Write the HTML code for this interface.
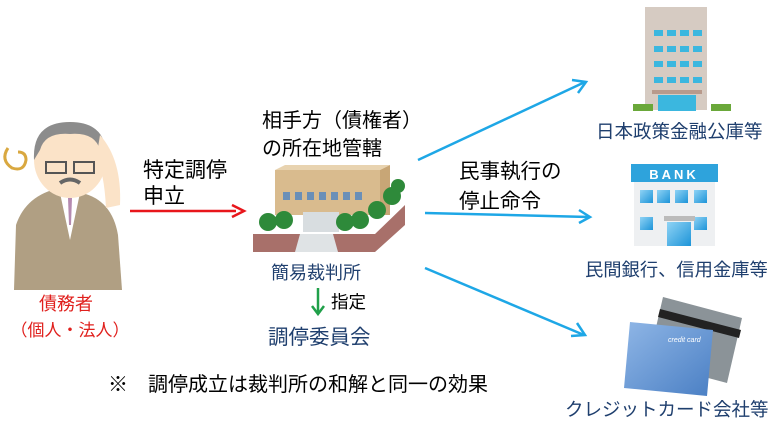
<!DOCTYPE html>
<html><head><meta charset="utf-8"><style>
body{margin:0;background:#fff}
svg text{font-family:"Liberation Sans","Noto Sans CJK JP",sans-serif}
</style></head><body>
<svg width="781" height="433" viewBox="0 0 781 433" xmlns="http://www.w3.org/2000/svg">
<defs>
<linearGradient id="cg" x1="0" y1="0" x2="1" y2="1"><stop offset="0" stop-color="#8fb6e6"/><stop offset="1" stop-color="#4a7fc4"/></linearGradient>
<linearGradient id="bk" x1="0" y1="0" x2="1" y2="1"><stop offset="0" stop-color="#8fd3f5"/><stop offset="1" stop-color="#1d94d8"/></linearGradient>
</defs>
<!-- person -->
<path d="M8 148 q-8 12 4 20 q12 4 14 -8 q0 -8 -8 -8" fill="none" stroke="#d9a840" stroke-width="3"/>
<path d="M14 290 L16 225 Q26 195 60 188 L82 193 Q112 200 118 235 L122 290 Z" fill="#b09f83"/>
<path d="M60 193 L70 240 L80 193 Z" fill="#fff"/>
<path d="M68 198 L72 198 L71 225 L69 225Z" fill="#b58ab0"/>
<ellipse cx="70" cy="160" rx="36" ry="38" fill="#fbe3c8"/>
<path d="M34 160 Q32 122 70 122 Q108 122 106 160 L100 150 Q95 132 70 134 Q45 132 40 150 Z" fill="#8c8c8c"/>
<path d="M100 135 Q122 160 120 205 L106 208 Q104 170 96 160Z" fill="#fbe3c8"/>
<rect x="46" y="162" width="20" height="11" fill="none" stroke="#555" stroke-width="2"/>
<rect x="74" y="162" width="20" height="11" fill="none" stroke="#555" stroke-width="2"/>
<path d="M60 183 Q70 176 80 183" stroke="#666" stroke-width="4" fill="none"/>
<text x="66" y="310" font-size="18" fill="#e0201d" text-anchor="middle">債務者</text>
<text x="70" y="336" font-size="17" fill="#e0201d" text-anchor="middle">（個人・法人）</text>
<text x="143" y="177" font-size="21" fill="#000">特定調停</text>
<text x="143" y="203" font-size="21" fill="#000">申立</text>
<line x1="130" y1="211" x2="236" y2="211" stroke="#e8161b" stroke-width="2.5"/>
<path d="M232 205 L244 211 L232 217" fill="none" stroke="#e8161b" stroke-width="2.5"/>
<text x="262" y="127" font-size="20" fill="#000">相手方（債権者）</text>
<text x="262" y="155" font-size="20" fill="#000">の所在地管轄</text>
<!-- court -->
<path d="M275 170 L380 170 L390 165 L390 215 L275 215Z" fill="#d9bb8e"/>
<path d="M380 170 L390 165 L390 215 L380 215Z" fill="#c8a676"/>
<path d="M275 170 L285 165 L390 165 L380 170Z" fill="#e8d3b0"/>
<g fill="#6a8fb8"><rect x="283" y="192" width="7" height="8"/><rect x="295" y="192" width="7" height="8"/><rect x="307" y="192" width="7" height="8"/><rect x="319" y="192" width="7" height="8"/><rect x="331" y="192" width="7" height="8"/><rect x="343" y="192" width="7" height="8"/><rect x="355" y="192" width="7" height="8"/></g>
<rect x="303" y="212" width="36" height="20" fill="#d8dde0"/>
<path d="M253 234 L300 234 L300 252 L253 252Z" fill="#a8706a"/>
<path d="M333 234 L375 234 L405 205 L405 225 L375 252 L333 252Z" fill="#a8706a"/>
<path d="M300 234 L333 234 L338 252 L295 252Z" fill="#dfe3e5"/>
<g fill="#2e8a3a"><circle cx="268" cy="222" r="9"/><circle cx="284" cy="220" r="9"/><circle cx="345" cy="222" r="9"/><circle cx="360" cy="220" r="9"/><circle cx="377" cy="210" r="9"/><circle cx="392" cy="196" r="9"/><circle cx="398" cy="186" r="7"/></g>
<text x="316" y="279" font-size="18" fill="#1f3f6e" text-anchor="middle">簡易裁判所</text>
<line x1="318" y1="288" x2="318" y2="312" stroke="#20a04a" stroke-width="2.5"/>
<path d="M312 306 L318 314 L324 306" fill="none" stroke="#20a04a" stroke-width="2.5"/>
<text x="331" y="308" font-size="17.5" fill="#000">指定</text>
<text x="268" y="344" font-size="20.5" fill="#1f3f6e">調停委員会</text>
<text x="108" y="391" font-size="20" fill="#000">※　調停成立は裁判所の和解と同一の効果</text>
<!-- blue arrows -->
<g stroke="#1ea7e6" stroke-width="2.5" fill="none">
<line x1="418" y1="160" x2="585" y2="82"/><path d="M572 80 L586 82 L578 93"/>
<line x1="425" y1="213" x2="589" y2="217"/><path d="M579 210 L590 217 L579 223"/>
<line x1="425" y1="268" x2="584" y2="335"/><path d="M577 323 L585 335 L571 336"/>
</g>
<text x="459" y="178" font-size="20.5" fill="#000">民事執行の</text>
<text x="459" y="208" font-size="20.5" fill="#000">停止命令</text>
<!-- office -->
<rect x="645" y="7" width="62" height="103" fill="#d6cbc2"/>
<g fill="#3bb7df"><rect x="654" y="30" width="9" height="6"/><rect x="667" y="30" width="9" height="6"/><rect x="680" y="30" width="9" height="6"/><rect x="693" y="30" width="9" height="6"/>
<rect x="654" y="46" width="9" height="6"/><rect x="667" y="46" width="9" height="6"/><rect x="680" y="46" width="9" height="6"/><rect x="693" y="46" width="9" height="6"/>
<rect x="654" y="61" width="9" height="6"/><rect x="667" y="61" width="9" height="6"/><rect x="680" y="61" width="9" height="6"/><rect x="693" y="61" width="9" height="6"/>
<rect x="654" y="77" width="9" height="6"/><rect x="667" y="77" width="9" height="6"/><rect x="680" y="77" width="9" height="6"/><rect x="693" y="77" width="9" height="6"/>
<rect x="658" y="95" width="38" height="16"/></g>
<rect x="652" y="90" width="50" height="4" fill="#b89a8c"/>
<rect x="633" y="104" width="20" height="7" fill="#6aa83a"/><rect x="711" y="104" width="20" height="7" fill="#6aa83a"/>
<text x="596" y="138" font-size="18.5" fill="#1f3f6e">日本政策金融公庫等</text>
<!-- bank -->
<rect x="631" y="164" width="87" height="18" fill="#2ea3dc"/>
<text x="674" y="179" font-size="13" font-weight="bold" fill="#fff" text-anchor="middle" letter-spacing="3">BANK</text>
<rect x="634" y="182" width="81" height="64" fill="#eef0f2"/>
<g fill="url(#bk)"><rect x="640" y="190" width="13" height="13"/><rect x="657" y="190" width="13" height="13"/><rect x="675" y="190" width="13" height="13"/><rect x="694" y="190" width="13" height="13"/><rect x="640" y="217" width="13" height="13"/><rect x="694" y="217" width="13" height="13"/><rect x="667" y="222" width="24" height="24"/></g>
<rect x="664" y="216" width="31" height="5" fill="#bbb"/>
<text x="585" y="276" font-size="18.3" fill="#1f3f6e">民間銀行、信用金庫等</text>
<!-- cards -->
<path d="M663 297 L742 318 L727 383 L648 362Z" fill="#8b9398"/>
<path d="M660 309 L741 330 L739 338 L658 317Z" fill="#222"/>
<path d="M630 322 L713 330 L707 396 L624 388Z" fill="url(#cg)"/>
<text x="668" y="342" font-size="7" fill="#fff" font-style="italic">credit card</text>
<text x="565" y="416" font-size="18.5" fill="#1f3f6e">クレジットカード会社等</text>
</svg>
</body></html>
